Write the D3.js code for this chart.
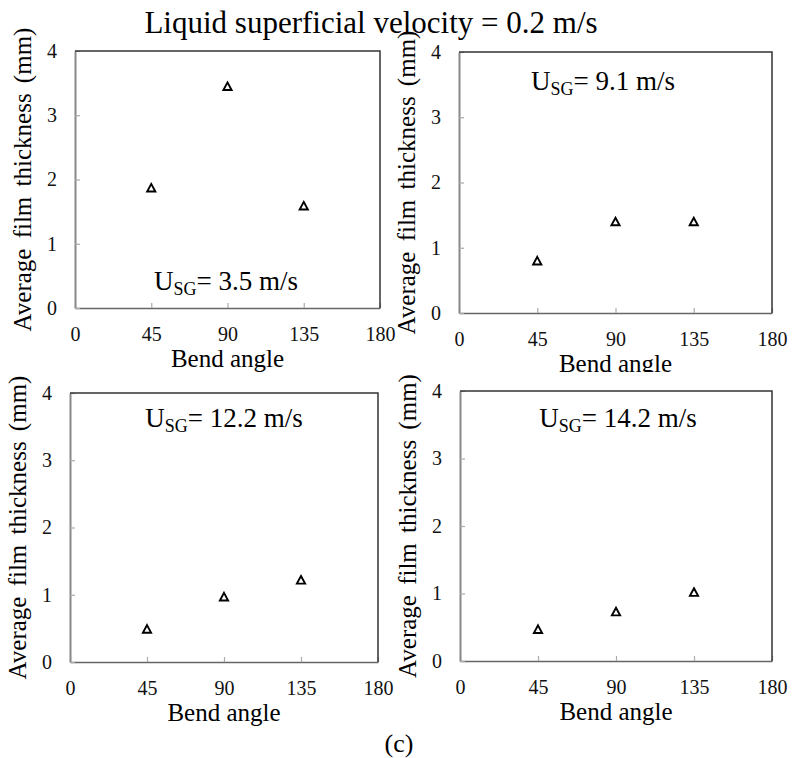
<!DOCTYPE html>
<html>
<head>
<meta charset="utf-8">
<script src="https://cdn.jsdelivr.net/npm/d3@7"></script>
<style>
  body { margin: 0; background: #fff; }
  svg text { font-family: "Liberation Serif", "Times New Roman", serif; }
</style>
</head>
<body>
<div id="chart-area"></div>
<script>
// data
let angles = [45, 90, 135]
let usgLabels = ["3.5", "9.1", "12.2", "14.2"]
let thick35 = [1.86, 3.44, 1.58]
let thick91 = [0.79, 1.39, 1.39]
let thick122 = [0.48, 0.96, 1.21]
let thick142 = [0.46, 0.72, 1.01]
let xTicks = [0, 45, 90, 135, 180]
let yTicks = [0, 1, 2, 3, 4]

let series = [thick35, thick91, thick122, thick142]

// panel boxes (pixels), the source figure is not quite regular
let panels = [
  { left: 75, right: 380, top: 51, bottom: 308, annX: 226, annY: 290 },
  { left: 459, right: 772, top: 52, bottom: 313, annX: 603, annY: 90 },
  { left: 70, right: 378, top: 393, bottom: 662, annX: 224, annY: 427 },
  { left: 460, right: 772, top: 391, bottom: 661, annX: 618, annY: 427 }
]

let width = 792
let height = 758
let serif = "'Liberation Serif', 'Times New Roman', serif"

let svg = d3.select("#chart-area").append("svg")
  .attr("width", width)
  .attr("height", height)

svg.append("text")
  .attr("x", 371)
  .attr("y", 33)
  .attr("text-anchor", "middle")
  .attr("font-size", 31)
  .text("Liquid superficial velocity = 0.2 m/s")

let triangle = "M0,-4.6L4.1,3L-4.1,3Z"

function drawPanel(i) {
  let p = panels[i]
  let g = svg.append("g")

  let x = d3.scaleLinear().domain([0, 180]).range([p.left, p.right])
  let y = d3.scaleLinear().domain([0, 4]).range([p.bottom, p.top])

  let xAxis = g.append("g")
    .attr("transform", "translate(0," + p.bottom + ")")
    .call(d3.axisBottom(x).tickValues(xTicks).tickFormat(d3.format("d"))
      .tickSizeInner(-5).tickSizeOuter(0).tickPadding(19))
  let yAxis = g.append("g")
    .attr("transform", "translate(" + p.left + ",0)")
    .call(d3.axisLeft(y).tickValues(yTicks).tickFormat(d3.format("d"))
      .tickSizeInner(-5).tickSizeOuter(0).tickPadding(18))

  ;[xAxis, yAxis].forEach(ax => {
    ax.attr("font-family", serif).attr("font-size", 20)
    ax.selectAll(".tick text")
      .attr("fill", "#111")
      .style("font-family", serif)
      .style("font-size", "20px")
    ax.selectAll(".tick line").attr("stroke", "#aaa").attr("stroke-width", 1.2)
  })
  xAxis.select(".domain").attr("stroke", "#666").attr("stroke-width", 1.6)
  yAxis.select(".domain").attr("stroke", "#888").attr("stroke-width", 2)

  // top and right frame
  g.append("path")
    .attr("d", "M" + p.left + "," + p.top + "H" + p.right + "V" + p.bottom)
    .attr("fill", "none")
    .attr("stroke", "#333")
    .attr("stroke-width", 1.5)

  g.selectAll(".pt")
    .data(series[i])
    .enter()
    .append("path")
      .attr("class", "pt")
      .attr("d", triangle)
      .attr("transform", (d, j) => "translate(" + x(angles[j]) + "," + y(d) + ")")
      .attr("fill", "none")
      .attr("stroke", "#000")
      .attr("stroke-width", 1.9)

  let ann = g.append("text")
    .attr("x", p.annX)
    .attr("y", p.annY)
    .attr("text-anchor", "middle")
    .attr("font-size", 27)
  ann.append("tspan").text("U")
  ann.append("tspan").attr("font-size", 18).attr("dy", 5).text("SG")
  ann.append("tspan").attr("dy", -5).text("= " + usgLabels[i] + " m/s")

  g.append("text")
    .attr("x", (p.left + p.right) / 2)
    .attr("y", p.bottom + 59)
    .attr("text-anchor", "middle")
    .attr("font-size", 25)
    .text("Bend angle")

  g.append("text")
    .attr("transform", "translate(" + (p.left - 44) + "," + ((p.top + p.bottom) / 2) + ") rotate(-90)")
    .attr("text-anchor", "middle")
    .attr("font-size", 25)
    .attr("word-spacing", 4)
    .text("Average film thickness (mm)")
}

drawPanel(0)
drawPanel(1)

// lower row sits over the upper row's axis titles
svg.append("rect")
  .attr("x", 0).attr("y", 372)
  .attr("width", width).attr("height", height - 372)
  .attr("fill", "#fff")

drawPanel(2)
drawPanel(3)

svg.append("text")
  .attr("x", 399)
  .attr("y", 752)
  .attr("text-anchor", "middle")
  .attr("font-size", 26)
  .text("(c)")
</script>
</body>
</html>
